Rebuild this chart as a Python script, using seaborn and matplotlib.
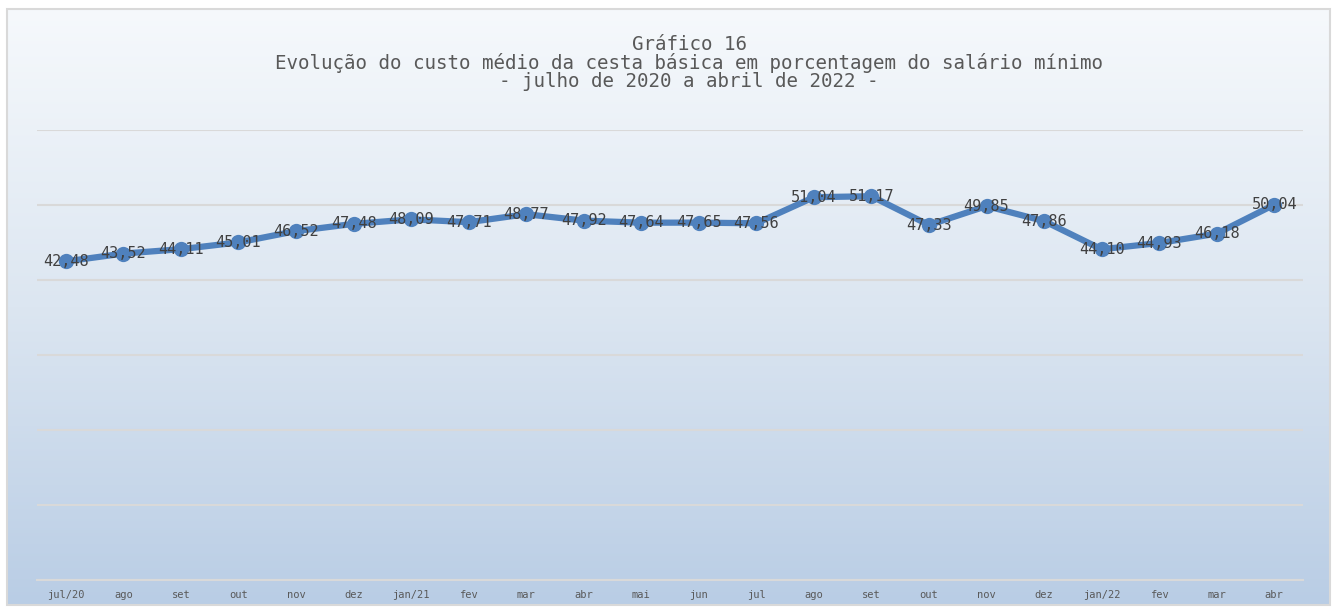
import numpy as np
import matplotlib
matplotlib.use("Agg")
import matplotlib.pyplot as plt
from matplotlib.colors import LinearSegmentedColormap
from matplotlib.patches import Rectangle
import seaborn as sns

# data
meses = ["jul/20", "ago", "set", "out", "nov", "dez", "jan/21", "fev", "mar", "abr", "mai",
         "jun", "jul", "ago", "set", "out", "nov", "dez", "jan/22", "fev", "mar", "abr"]
valores = [42.48, 43.52, 44.11, 45.01, 46.52, 47.48, 48.09, 47.71, 48.77, 47.92, 47.64,
           47.65, 47.56, 51.04, 51.17, 47.33, 49.85, 47.86, 44.10, 44.93, 46.18, 50.04]
titulo = ("Gráfico 16\n"
          "Evolução do custo médio da cesta básica em porcentagem do salário mínimo\n"
          "- julho de 2020 a abril de 2022 -")

sns.set_style("white")
plt.rcParams['font.family'] = ['DejaVu Sans Mono', 'DejaVu Sans']

W, H = 1336, 610
fig = plt.figure(figsize=(W / 100, H / 100), dpi=100)

# gradient background (chart area box)
bx0, by0, bx1, by1 = 7, 9, 1330, 605
ax_bg = fig.add_axes([bx0 / W, 1 - by1 / H, (bx1 - bx0) / W, (by1 - by0) / H])
cmap = LinearSegmentedColormap.from_list("bg", ["#f6f9fc", "#dce6f1", "#b9cde5"])
grad = np.linspace(0, 1, 256).reshape(-1, 1)
ax_bg.imshow(grad, aspect="auto", cmap=cmap, extent=[0, 1, 1, 0])
ax_bg.set_axis_off()
fig.patches.append(Rectangle((bx0 / W, 1 - by1 / H), (bx1 - bx0) / W, (by1 - by0) / H,
                             transform=fig.transFigure, fill=False,
                             edgecolor="#d9d9d9", linewidth=1.5, zorder=10))

# main axes
ax = fig.add_axes([37 / W, 1 - 580 / H, (1303 - 37) / W, (580 - 130) / H])
ax.set_facecolor("none")
x = np.arange(len(meses))
sns.lineplot(x=x, y=valores, ax=ax, color="#4f81bd", linewidth=4.5,
             marker="o", markersize=11, markeredgewidth=0, zorder=3)

for xi, v in zip(x, valores):
    ax.text(xi, v, f"{v:.2f}".replace(".", ","), ha="center", va="center",
            fontsize=11, color="#404040", zorder=4)

ax.set_xlim(-0.5, len(meses) - 0.5)
ax.set_ylim(0, 60)
ax.set_yticks(np.arange(0, 61, 10))
ax.yaxis.grid(True, color="#d9d9d9", linewidth=1.5)
ax.set_axisbelow(True)
ax.tick_params(axis="y", left=False, labelleft=False)
ax.set_xticks(x)
ax.set_xticklabels(meses, fontsize=7.5, color="#595959")
ax.tick_params(axis="x", length=0, pad=7)
for s in ["top", "right", "left"]:
    ax.spines[s].set_visible(False)
ax.spines["bottom"].set_color("#d9d9d9")
ax.spines["bottom"].set_linewidth(1.5)

fig.text(689 / W, 1 - 63 / H, titulo, ha="center", va="center", fontsize=13.8,
         color="#595959", linespacing=0.92)

fig.savefig("out.png", dpi=100)
